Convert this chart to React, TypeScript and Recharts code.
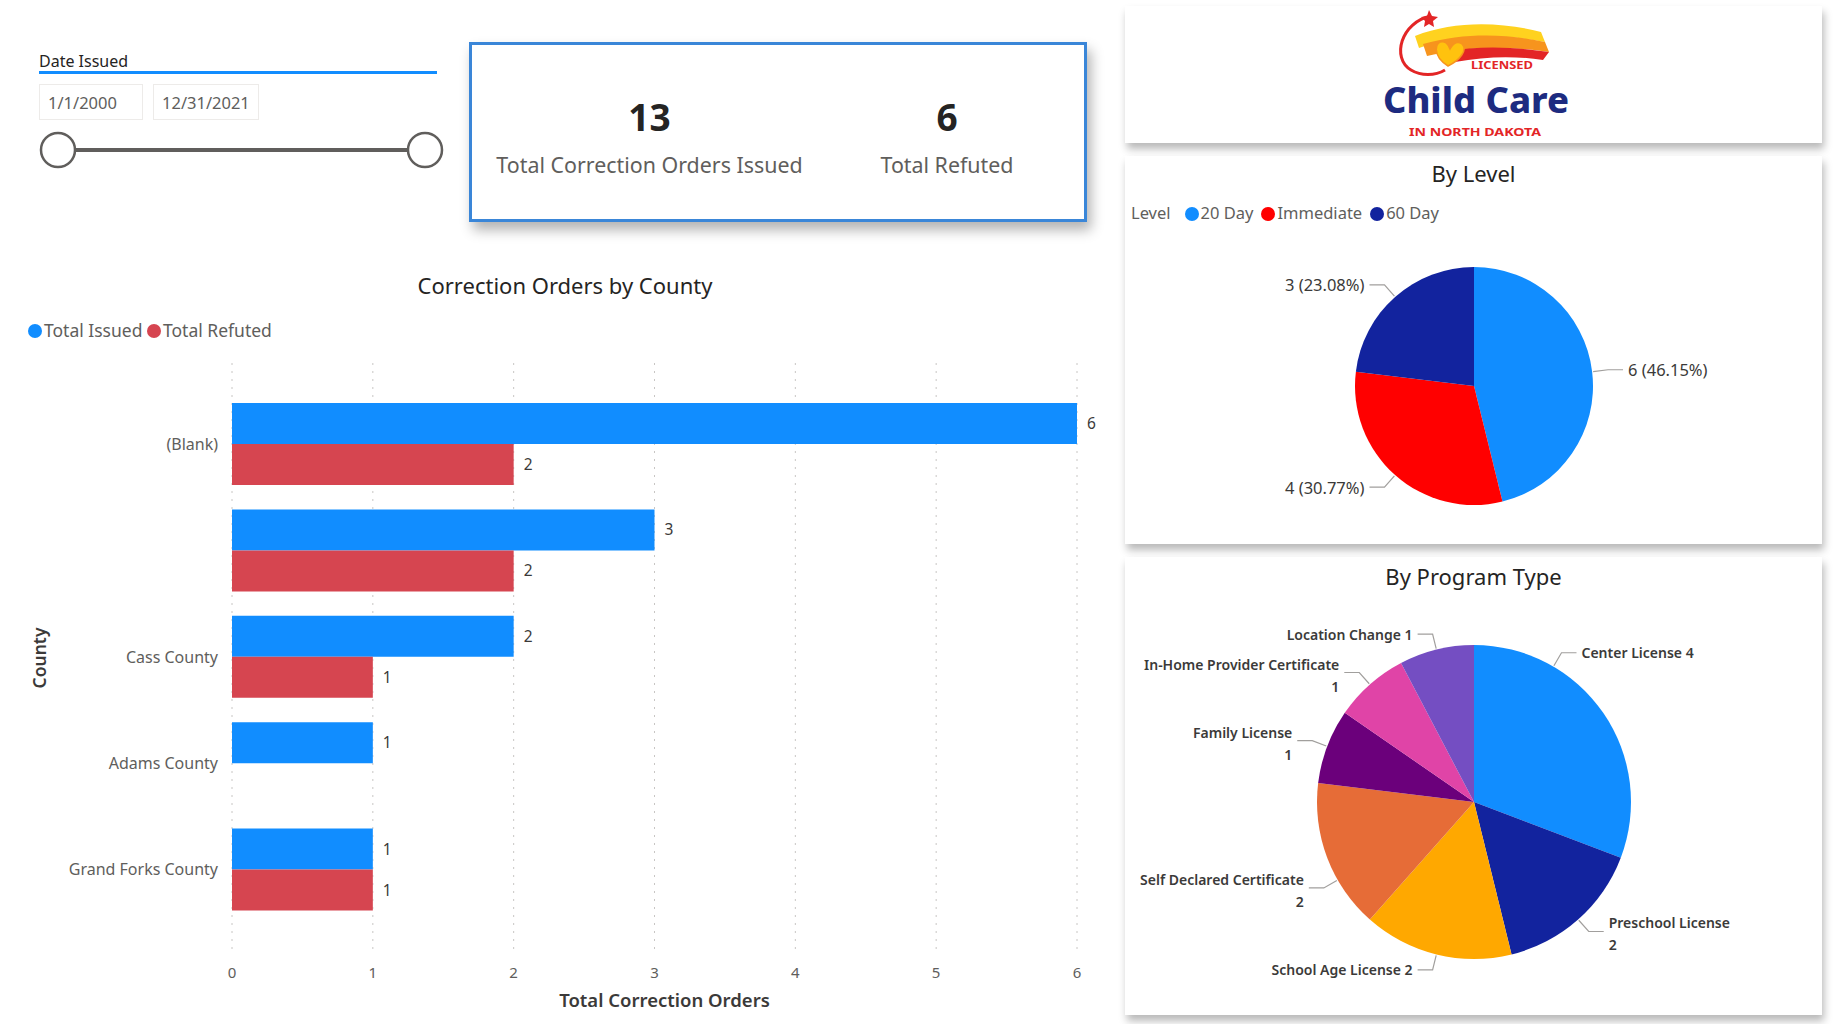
import * as React from 'react';
import { BarChart, Bar, XAxis, YAxis, CartesianGrid, LabelList, Label, PieChart, Pie, Cell } from 'recharts';

// County bar chart
const counties = ['(Blank)', '', 'Cass County', 'Adams County', 'Grand Forks County'];
const totalIssued = [6, 3, 2, 1, 1];
const totalRefuted = [2, 2, 1, null, 1];
const xTicks = [0, 1, 2, 3, 4, 5, 6];

// By Level pie
const levelNames = ['20 Day', 'Immediate', '60 Day'];
const levelValues = [6, 4, 3];
const levelColors = ['#118DFF', '#FF0000', '#12239E'];

// By Program Type pie
const programNames = ['Center License', 'Preschool License', 'School Age License', 'Self Declared Certificate', 'Family License', 'In-Home Provider Certificate', 'Location Change'];
const programValues = [4, 2, 2, 2, 1, 1, 1];
const programColors = ['#118DFF', '#12239E', '#FFA800', '#E66C37', '#6B007B', '#E044A7', '#744EC2'];

// Card values
const totalOrders = 13;
const totalRefutedCount = 6;
const dateFrom = '1/1/2000';
const dateTo = '12/31/2021';

const FONT = "'Segoe UI', 'Noto Sans', sans-serif";
const TEXT = '#252423';
const SUB = '#605E5C';
const RAD = Math.PI / 180;

const countyData = counties.map((c, i) => ({ county: c, issued: totalIssued[i], refuted: totalRefuted[i] }));
const levelData = levelNames.map((n, i) => ({ name: n, value: levelValues[i] }));
const programData = programNames.map((n, i) => ({ name: n, value: programValues[i] }));

// Power BI shifts a couple of labels off the slice middle
const labelAngleNudge: Record<string, number> = { 'Center License': 25, 'Self Declared Certificate': 9 };

// leader line + text, Power BI style
const leader = (props: any, lines: string[], fontSize: number, weight: number) => {
  const { cx, cy, outerRadius, midAngle, name } = props;
  const ang = (midAngle + (labelAngleNudge[name] || 0)) * RAD;
  const cos = Math.cos(ang);
  const sin = Math.sin(ang);
  const x0 = cx + (outerRadius + 1) * cos;
  const y0 = cy - (outerRadius + 1) * sin;
  const x1 = cx + (outerRadius + 16) * cos;
  const y1 = cy - (outerRadius + 16) * sin;
  const right = cos >= 0;
  const x2 = x1 + (right ? 15 : -15);
  const tx = x2 + (right ? 5 : -5);
  return (
    <g>
      <polyline points={`${x0},${y0} ${x1},${y1} ${x2},${y1}`} fill="none" stroke="#A19F9D" strokeWidth={1.2} />
      {lines.length === 1 ? (
        <text x={tx} y={y1} textAnchor={right ? 'start' : 'end'} dominantBaseline="central" fontSize={fontSize} fontWeight={weight} fill="#3B3A39" fontFamily={FONT}>{lines[0]}</text>
      ) : (
        <text textAnchor={right ? 'start' : 'end'} dominantBaseline="central" fontSize={fontSize} fontWeight={weight} fill="#3B3A39" fontFamily={FONT}>
          <tspan x={tx} y={y1 - 9}>{lines[0]}</tspan>
          <tspan x={tx} y={y1 + 13}>{lines[1]}</tspan>
        </text>
      )}
    </g>
  );
};

const levelLabel = (props: any) =>
  leader(props, [`${props.value} (${(props.percent * 100).toFixed(2)}%)`], 16.5, 400);

const programLabel = (props: any) => {
  const ang = (props.midAngle + (labelAngleNudge[props.name] || 0)) * RAD;
  const wrap = Math.abs(Math.sin(ang)) < 0.8;
  return leader(props, wrap ? [props.name, String(props.value)] : [`${props.name} ${props.value}`], 14, 600);
};

const Dot = ({ color, size = 14 }: { color: string; size?: number }) => (
  <span style={{ display: 'inline-block', width: size, height: size, borderRadius: '50%', background: color, marginRight: 2, verticalAlign: 'middle', position: 'relative', top: -1 }} />
);

const panel: React.CSSProperties = {
  position: 'absolute', background: '#fff', boxShadow: '2px 6px 8px rgba(0,0,0,0.28)',
};

const Logo = () => (
  <svg width={697} height={137} style={{ position: 'absolute', left: 0, top: 0 }}>
    {/* swoosh ring */}
    <path d="M 306 10 C 276 16, 266 52, 286 64 C 296 70, 310 70, 320 64" fill="none" stroke="#E32526" strokeWidth={3} />
    <path d="M 304 4 l 3 6 l 6 1 l -5 4 l 1 6 l -5 -3 l -5 3 l 1 -6 l -4 -4 l 6 -1 z" fill="#E32526" />
    {/* brush strokes */}
    <path d="M 290 30 C 330 14, 378 16, 416 26 L 420 36 C 378 28, 332 28, 294 42 Z" fill="#FFD21F" />
    <path d="M 298 38 C 340 26, 384 28, 420 36 L 424 46 C 384 40, 340 40, 302 50 Z" fill="#F7941D" />
    <path d="M 318 46 C 360 38, 396 42, 424 46 L 418 54 C 392 50, 362 50, 330 56 Z" fill="#E32526" />
    {/* heart */}
    <path d="M 323 60 C 307 50, 309 34, 319 36 C 323 37, 324 41, 325 43 C 327 39, 331 34, 337 38 C 343 44, 335 54, 323 60 Z" fill="#FFC20E" stroke="#F7941D" strokeWidth={1.5} />
    <text x={377} y={63} textAnchor="middle" fontSize={10} fontWeight={700} fill="#E32526" fontFamily={FONT} textLength={62} lengthAdjust="spacingAndGlyphs">LICENSED</text>
    <text x={351} y={107} textAnchor="middle" fontSize={36} fontWeight={800} fill="#1D2B80" fontFamily={FONT} textLength={186} lengthAdjust="spacingAndGlyphs">Child Care</text>
    <text x={350} y={130} textAnchor="middle" fontSize={11} fontWeight={700} fill="#E32526" fontFamily={FONT} textLength={132} lengthAdjust="spacingAndGlyphs">IN NORTH DAKOTA</text>
  </svg>
);

export default function App() {
  return (
    <div style={{ position: 'relative', width: 1834, height: 1024, background: '#fff', fontFamily: FONT, overflow: 'hidden' }}>
      <style>{'body{margin:0}'}</style>

      {/* Date slicer */}
      <div style={{ position: 'absolute', left: 39, top: 50, fontSize: 16, color: TEXT }}>Date Issued</div>
      <div style={{ position: 'absolute', left: 39, top: 71, width: 398, height: 3, background: '#118DFF' }} />
      <div style={{ position: 'absolute', left: 39, top: 84, width: 104, height: 36, border: '1px solid #EDEBE9', fontSize: 16.5, color: SUB, lineHeight: '36px', paddingLeft: 8, boxSizing: 'border-box' }}>{dateFrom}</div>
      <div style={{ position: 'absolute', left: 153, top: 84, width: 106, height: 36, border: '1px solid #EDEBE9', fontSize: 16.5, color: SUB, lineHeight: '36px', paddingLeft: 8, boxSizing: 'border-box' }}>{dateTo}</div>
      <svg width={460} height={40} style={{ position: 'absolute', left: 0, top: 130 }}>
        <line x1={58} y1={20} x2={425} y2={20} stroke="#605E5C" strokeWidth={4} />
        <circle cx={58} cy={20} r={17} fill="#fff" stroke="#605E5C" strokeWidth={2.5} />
        <circle cx={425} cy={20} r={17} fill="#fff" stroke="#605E5C" strokeWidth={2.5} />
      </svg>

      {/* KPI card */}
      <div style={{ ...panel, left: 469, top: 42, width: 618, height: 180, border: '3px solid #3A86D8', boxSizing: 'border-box', boxShadow: '4px 8px 12px rgba(0,0,0,0.3)' }}>
        <div style={{ position: 'absolute', left: 0, width: 355, top: 50, textAlign: 'center', fontSize: 37, fontWeight: 700, color: TEXT, lineHeight: '44px' }}>{totalOrders}</div>
        <div style={{ position: 'absolute', left: 0, width: 355, top: 105, textAlign: 'center', fontSize: 21.4, color: SUB }}>Total Correction Orders Issued</div>
        <div style={{ position: 'absolute', left: 400, width: 150, top: 50, textAlign: 'center', fontSize: 37, fontWeight: 700, color: TEXT, lineHeight: '44px' }}>{totalRefutedCount}</div>
        <div style={{ position: 'absolute', left: 400, width: 150, top: 105, textAlign: 'center', fontSize: 21.4, color: SUB }}>Total Refuted</div>
      </div>

      {/* County chart title + legend */}
      <div style={{ position: 'absolute', left: 265, width: 600, top: 270, textAlign: 'center', fontSize: 22, color: TEXT }}>Correction Orders by County</div>
      <div style={{ position: 'absolute', left: 28, top: 318, fontSize: 17.5, color: SUB, whiteSpace: 'nowrap' }}>
        <Dot color="#118DFF" />Total Issued <Dot color="#D64550" />Total Refuted
      </div>

      <div style={{ position: 'absolute', left: 0, top: 350 }}>
        <BarChart width={1110} height={670} data={countyData} layout="vertical" barGap={0} barSize={41}
          margin={{ top: 13, right: 33, bottom: 7, left: 0 }}>
          <CartesianGrid horizontal={false} stroke="#C8C6C4" strokeDasharray="2 6" />
          <XAxis type="number" domain={[0, 6]} ticks={xTicks} tickSize={0} tickMargin={14} axisLine={false}
            tick={{ fontSize: 15, fill: SUB, fontFamily: FONT }} height={60}>
            <Label value="Total Correction Orders" position="insideBottom" offset={6} fontSize={18.5} fontWeight={600} fill="#3B3A39" fontFamily={FONT} dx={10} />
          </XAxis>
          <YAxis type="category" dataKey="county" width={232} tickSize={0} tickMargin={14} axisLine={false}
            padding={{ top: 28, bottom: 30 }} tick={{ fontSize: 16, fill: SUB, fontFamily: FONT }} />
          <Bar dataKey="issued" fill="#118DFF" isAnimationActive={false}>
            <LabelList dataKey="issued" position="right" offset={10} fontSize={15.5} fill="#3B3A39" fontFamily={FONT} />
          </Bar>
          <Bar dataKey="refuted" fill="#D64550" isAnimationActive={false}>
            <LabelList dataKey="refuted" position="right" offset={10} fontSize={15.5} fill="#3B3A39" fontFamily={FONT} formatter={(v: any) => (v == null ? '' : v)} />
          </Bar>
        </BarChart>
      </div>
      <svg width={60} height={120} style={{ position: 'absolute', left: 10, top: 598 }}>
        <text x={29} y={60} transform="rotate(-90 29 60)" textAnchor="middle" dominantBaseline="central" fontSize={17.5} fontWeight={600} fill="#3B3A39" fontFamily={FONT}>County</text>
      </svg>

      {/* Logo card */}
      <div style={{ ...panel, left: 1125, top: 6, width: 697, height: 137 }}>
        <Logo />
      </div>

      {/* By Level */}
      <div style={{ ...panel, left: 1125, top: 156, width: 697, height: 388 }}>
        <div style={{ position: 'absolute', left: 0, width: 697, top: 2, textAlign: 'center', fontSize: 22, color: TEXT }}>By Level</div>
        <div style={{ position: 'absolute', left: 6, top: 45, fontSize: 16.5, color: SUB, whiteSpace: 'nowrap' }}>
          <span style={{ marginRight: 14 }}>Level</span>
          {levelNames.map((n, i) => (
            <span key={n} style={{ marginRight: 8 }}><Dot color={levelColors[i]} />{n}</span>
          ))}
        </div>
        <div style={{ position: 'absolute', left: 0, top: 0 }}>
          <PieChart width={697} height={388}>
            <Pie data={levelData} dataKey="value" nameKey="name" cx={344} cy={225} outerRadius={119}
              startAngle={90} endAngle={-270} stroke="none" label={levelLabel} labelLine={false} isAnimationActive={false}>
              {levelData.map((d, i) => <Cell key={d.name} fill={levelColors[i]} />)}
            </Pie>
          </PieChart>
        </div>
      </div>

      {/* By Program Type */}
      <div style={{ ...panel, left: 1125, top: 557, width: 697, height: 458 }}>
        <div style={{ position: 'absolute', left: 0, width: 697, top: 4, textAlign: 'center', fontSize: 22, color: TEXT }}>By Program Type</div>
        <div style={{ position: 'absolute', left: 0, top: 0 }}>
          <PieChart width={697} height={458}>
            <Pie data={programData} dataKey="value" nameKey="name" cx={344} cy={240} outerRadius={157}
              startAngle={90} endAngle={-270} stroke="none" label={programLabel} labelLine={false} isAnimationActive={false}>
              {programData.map((d, i) => <Cell key={d.name} fill={programColors[i]} />)}
            </Pie>
          </PieChart>
        </div>
      </div>
    </div>
  );
}
